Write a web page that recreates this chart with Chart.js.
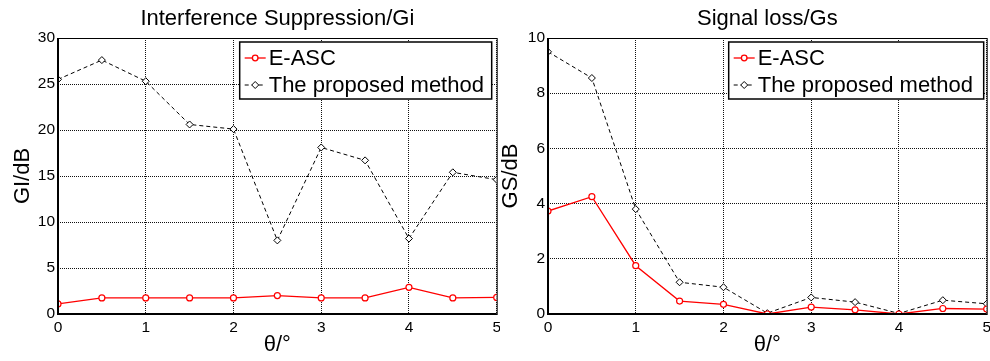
<!DOCTYPE html>
<html>
<head>
<meta charset="utf-8">
<script src="https://cdn.jsdelivr.net/npm/chart.js@4"></script>
<style>
  html, body { margin: 0; padding: 0; background: #fff; }
  #wrap { position: relative; width: 990px; height: 361px; overflow: hidden; background: #fff; }
  .pane { position: absolute; top: 0; height: 361px; overflow: hidden; }
</style>
</head>
<body>
<div id="wrap">
  <div class="pane" style="left:0;width:500px"><canvas id="gi" width="505" height="361"></canvas></div>
  <div class="pane" style="left:500px;width:490px"><canvas id="gs" width="495" height="361"></canvas></div>
</div>
<script>
const theta = [0, 0.5, 1, 1.5, 2, 2.5, 3, 3.5, 4, 4.5, 5];

const giEasc = [1.1, 1.75, 1.75, 1.75, 1.75, 2.0, 1.75, 1.75, 2.9, 1.75, 1.8];
const giProposed = [25.5, 27.6, 25.3, 20.6, 20.1, 8.0, 18.1, 16.7, 8.2, 15.4, 14.6];

const gsEasc = [3.73, 4.25, 1.75, 0.47, 0.35, 0.0, 0.25, 0.15, 0.0, 0.2, 0.18];
const gsProposed = [9.5, 8.55, 3.8, 1.15, 0.97, 0.03, 0.6, 0.43, 0.02, 0.5, 0.37];

const legendNames = ['E-ASC', 'The proposed method'];
const FONT = '"Liberation Sans", Arial, sans-serif';

function pts(vals) {
  return vals.map((v, i) => ({ x: theta[i], y: v }));
}

// title over the plot, frame round it and a matlab style legend box
const framePlugin = {
  id: 'frame',
  afterDraw(chart, args, opts) {
    const { ctx, chartArea: a } = chart;
    ctx.save();
    ctx.fillStyle = '#000';
    ctx.font = '22px ' + FONT;
    ctx.textAlign = 'center';
    ctx.textBaseline = 'alphabetic';
    ctx.fillText(opts.title, (a.left + a.right) / 2, 25);

    ctx.strokeStyle = '#000';
    ctx.lineWidth = 1;
    ctx.strokeRect(a.left + 0.5, a.top + 0.5, a.right - a.left, a.bottom - a.top);
    ctx.lineWidth = 2;
    ctx.beginPath();
    ctx.moveTo(a.left, a.top);
    ctx.lineTo(a.left, a.bottom);
    ctx.lineTo(a.right, a.bottom);
    ctx.stroke();

    // legend
    const w = opts.width, h = 57;
    const x = a.right - opts.right - w, y = a.top + 4;
    ctx.fillStyle = '#fff';
    ctx.fillRect(x, y, w, h);
    ctx.lineWidth = 1.5;
    ctx.strokeStyle = '#000';
    ctx.strokeRect(x, y, w, h);
    ctx.textAlign = 'left';
    ctx.textBaseline = 'middle';
    const rows = [y + 16, y + 43];
    // E-ASC sample
    ctx.strokeStyle = '#ff0000';
    ctx.lineWidth = 1.3;
    ctx.beginPath();
    ctx.moveTo(x + 5, rows[0]);
    ctx.lineTo(x + 26, rows[0]);
    ctx.stroke();
    ctx.fillStyle = '#fff';
    ctx.beginPath();
    ctx.arc(x + 15.5, rows[0], 2.8, 0, Math.PI * 2);
    ctx.fill();
    ctx.stroke();
    // proposed sample
    ctx.strokeStyle = '#000';
    ctx.lineWidth = 1;
    ctx.setLineDash([4, 3]);
    ctx.beginPath();
    ctx.moveTo(x + 5, rows[1]);
    ctx.lineTo(x + 26, rows[1]);
    ctx.stroke();
    ctx.setLineDash([]);
    ctx.beginPath();
    ctx.moveTo(x + 15.5, rows[1] - 3.5);
    ctx.lineTo(x + 19, rows[1]);
    ctx.lineTo(x + 15.5, rows[1] + 3.5);
    ctx.lineTo(x + 12, rows[1]);
    ctx.closePath();
    ctx.fill();
    ctx.stroke();
    ctx.fillStyle = '#000';
    ctx.fillText(legendNames[0], x + 29, rows[0] + 1);
    ctx.fillText(legendNames[1], x + 29, rows[1] + 1);
    ctx.restore();
  }
};

function makeChart(id, title, yTitle, easc, proposed, yMax, yStep, yWidth, yTitlePad, legendW, legendRight) {
  return new Chart(document.getElementById(id), {
    type: 'line',
    data: {
      datasets: [{
        label: legendNames[0],
        data: pts(easc),
        borderColor: '#ff0000',
        borderWidth: 1.3,
        pointStyle: 'circle',
        pointRadius: 3,
        pointBorderWidth: 1.2,
        pointBackgroundColor: '#fff',
        pointBorderColor: '#ff0000',
        tension: 0
      }, {
        label: legendNames[1],
        data: pts(proposed),
        borderColor: '#000',
        borderWidth: 1,
        borderDash: [4, 3],
        pointStyle: 'rectRot',
        pointRadius: 3.5,
        pointBorderWidth: 1,
        pointBackgroundColor: '#fff',
        pointBorderColor: '#000',
        tension: 0
      }]
    },
    options: {
      responsive: false,
      animation: false,
      layout: { padding: { top: 38 } },
      plugins: {
        legend: { display: false },
        tooltip: { enabled: false },
        title: { display: false },
        frame: { title: title, width: legendW, right: legendRight }
      },
      scales: {
        x: {
          type: 'linear',
          min: 0,
          max: 5,
          afterFit(s) { s.height = 47; },
          ticks: {
            stepSize: 1,
            color: '#000',
            padding: 4,
            font: { family: FONT, size: 15.5 }
          },
          grid: { color: '#111', lineWidth: 1, drawTicks: false },
          border: { display: false, dash: [1, 1] },
          title: {
            display: true,
            text: 'θ/°',
            color: '#000',
            font: { family: FONT, size: 22 },
            padding: { top: 0, bottom: 3 }
          }
        },
        y: {
          min: 0,
          max: yMax,
          afterFit(s) { s.width = yWidth; },
          ticks: {
            stepSize: yStep,
            color: '#000',
            padding: 3,
            font: { family: FONT, size: 15.5 }
          },
          grid: { color: '#111', lineWidth: 1, drawTicks: false },
          border: { display: false, dash: [1, 1] },
          title: {
            display: true,
            text: yTitle,
            color: '#000',
            font: { family: FONT, size: 22, lineHeight: 1 },
            padding: { top: yTitlePad, bottom: 0 }
          }
        }
      }
    },
    plugins: [framePlugin]
  });
}

makeChart('gi', 'Interference Suppression/Gi', 'GI/dB', giEasc, giProposed, 30, 5, 58, 11.5, 252, 5);
makeChart('gs', 'Signal loss/Gs', 'GS/dB', gsEasc, gsProposed, 10, 2, 48, 0, 255, 3);
</script>
</body>
</html>
